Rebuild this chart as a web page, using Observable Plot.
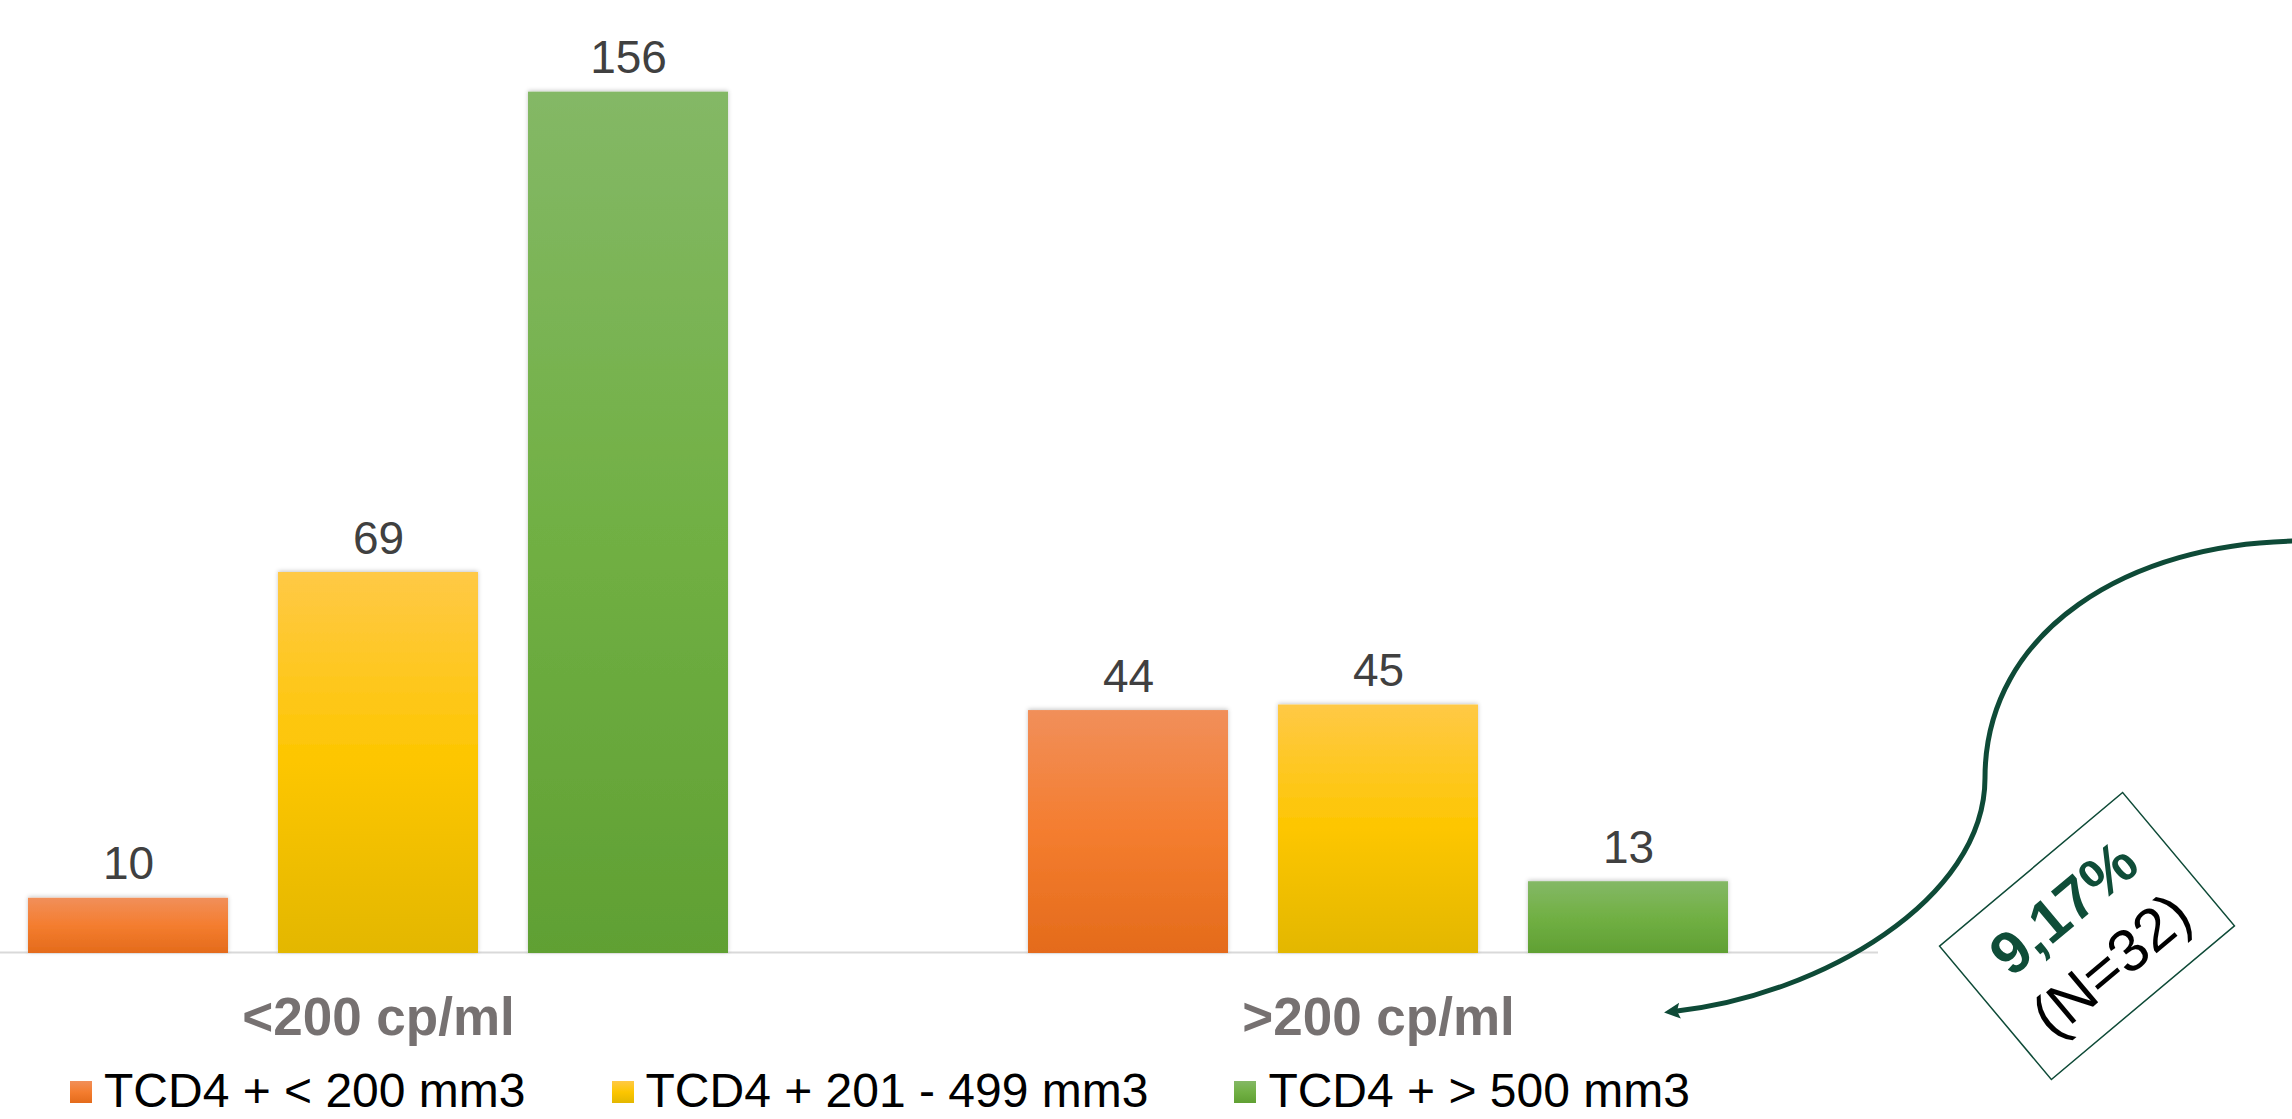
<!DOCTYPE html>
<html><head><meta charset="utf-8">
<script src="https://cdn.jsdelivr.net/npm/d3@7"></script>
<script src="https://cdn.jsdelivr.net/npm/@observablehq/plot@0.6"></script>
<style>
html,body{margin:0;padding:0;background:#fff;overflow:hidden;}
body{width:2292px;height:1119px;font-family:"Liberation Sans",Arial,sans-serif;}
#chart svg{display:block;}
#legend{display:flex;align-items:flex-start;height:59px;padding-left:70px;box-sizing:border-box;}
.item{display:flex;align-items:flex-start;margin-right:86px;}
.sw{width:22px;height:22px;margin-top:21px;margin-right:12px;flex:none;}
.lab{font-size:48px;line-height:54px;margin-top:4px;color:#000;white-space:pre;}
</style></head><body>
<div id="chart"></div>
<div id="legend"></div>
<script>
// ---- data ----
const groups = ["<200 cp/ml", ">200 cp/ml"];
const series = ["TCD4 + < 200 mm3", "TCD4 + 201 - 499 mm3", "TCD4 + > 500 mm3"];
const valuesLow = [10, 69, 156];
const valuesHigh = [44, 45, 13];
const annotationPct = "9,17%";
const annotationN = "(N=32)";

// ---- styles ----
const gradientIds = ["gOrange", "gYellow", "gGreen"];
const gradientStops = [
  ["#f18f5a", "#f47d2f", "#e46b1b"],
  ["#ffc946", "#fdc600", "#e3b700"],
  ["#84b866", "#71b044", "#60a033"]
];
const annColor = "#0e4a37";

const table = groups.flatMap((g, i) =>
  series.map((s, j) => ({group: g, series: s, value: [valuesLow, valuesHigh][i][j]})));

const chart = Plot.plot({
  width: 2292,
  height: 1060,
  marginTop: 0,
  marginBottom: 107,
  marginLeft: -122,
  marginRight: 414,
  style: {fontFamily: "Liberation Sans, Arial, sans-serif", overflow: "visible", background: "transparent"},
  fx: {domain: groups, padding: 0, axis: null},
  x: {domain: series, paddingInner: 0.2, paddingOuter: 0.6, axis: null},
  y: {domain: [0, 172.6], axis: null},
  color: {type: "ordinal", domain: series, range: gradientIds.map(id => `url(#${id})`)},
  marks: [
    Plot.ruleY([0], {stroke: "#d9d9d9", strokeWidth: 2, dy: -1}),
    Plot.barY(table, {fx: "group", x: "series", y: "value", fill: "series"}),
    Plot.text(table, {fx: "group", x: "series", y: "value", text: d => String(d.value),
      lineAnchor: "bottom", dy: -19, fontSize: 46, fill: "#404040"}),
    Plot.text(groups, {fx: d => d, text: d => d, frameAnchor: "bottom", lineAnchor: "bottom",
      dy: 81, fontSize: 53, fontWeight: "bold", fill: "#767171"})
  ]
});
document.getElementById("chart").append(chart);

const svg = d3.select(chart);
const defs = svg.insert("defs", ":first-child");
gradientIds.forEach((id, i) => {
  const g = defs.append("linearGradient").attr("id", id)
    .attr("x1", 0).attr("y1", 0).attr("x2", 0).attr("y2", 1);
  [0, 0.5, 1].forEach((o, k) => g.append("stop").attr("offset", o).attr("stop-color", gradientStops[i][k]));
});
const f = defs.append("filter").attr("id", "barShadow")
  .attr("x", "-10%").attr("y", "-10%").attr("width", "120%").attr("height", "120%");
f.append("feDropShadow").attr("dx", 0).attr("dy", -1).attr("stdDeviation", 2)
  .attr("flood-color", "#000").attr("flood-opacity", 0.22);
svg.selectAll("g[aria-label='bar'] rect").attr("filter", "url(#barShadow)");

// arrow marker
defs.append("marker").attr("id", "arrowHead")
  .attr("viewBox", "0 -9 18 18").attr("markerUnits", "userSpaceOnUse")
  .attr("markerWidth", 18).attr("markerHeight", 18)
  .attr("refX", 3).attr("refY", 0).attr("orient", "auto")
  .append("path").attr("d", "M0,-8L16,0L0,8L3,0Z").attr("fill", annColor);

// curved annotation arrow (two cubic segments, S shape)
const ann = svg.append("g").attr("class", "annotation");
const p = d3.path();
p.moveTo(2300, 541);
p.bezierCurveTo(2130, 542, 1985, 630, 1985, 778);
p.bezierCurveTo(1985, 900, 1820, 995, 1677, 1011);
ann.append("path")
  .attr("d", p.toString())
  .attr("fill", "none").attr("stroke", annColor).attr("stroke-width", 5)
  .attr("marker-end", "url(#arrowHead)");

// rotated box
const box = ann.append("g").attr("transform", "translate(2087,936) rotate(-40)");
box.append("rect").attr("x", -119.5).attr("y", -87).attr("width", 239).attr("height", 174)
  .attr("fill", "#fff").attr("stroke", annColor).attr("stroke-width", 1.5);
box.append("text").attr("y", -37).attr("dy", "0.35em").attr("text-anchor", "middle")
  .attr("font-size", 60).attr("font-weight", "bold").attr("fill", "#0f4d38")
  .attr("font-family", "Liberation Sans, Arial, sans-serif").text(annotationPct);
box.append("text").attr("y", 37).attr("dy", "0.35em").attr("text-anchor", "middle")
  .attr("font-size", 60).attr("fill", "#000")
  .attr("font-family", "Liberation Sans, Arial, sans-serif").text(annotationN);

// legend
const legend = d3.select("#legend");
series.forEach((s, i) => {
  const it = legend.append("div").attr("class", "item");
  it.append("div").attr("class", "sw")
    .style("background", `linear-gradient(to bottom, ${gradientStops[i][0]}, ${gradientStops[i][1]} 50%, ${gradientStops[i][2]})`);
  it.append("div").attr("class", "lab").text(s);
});
</script>
</body></html>
